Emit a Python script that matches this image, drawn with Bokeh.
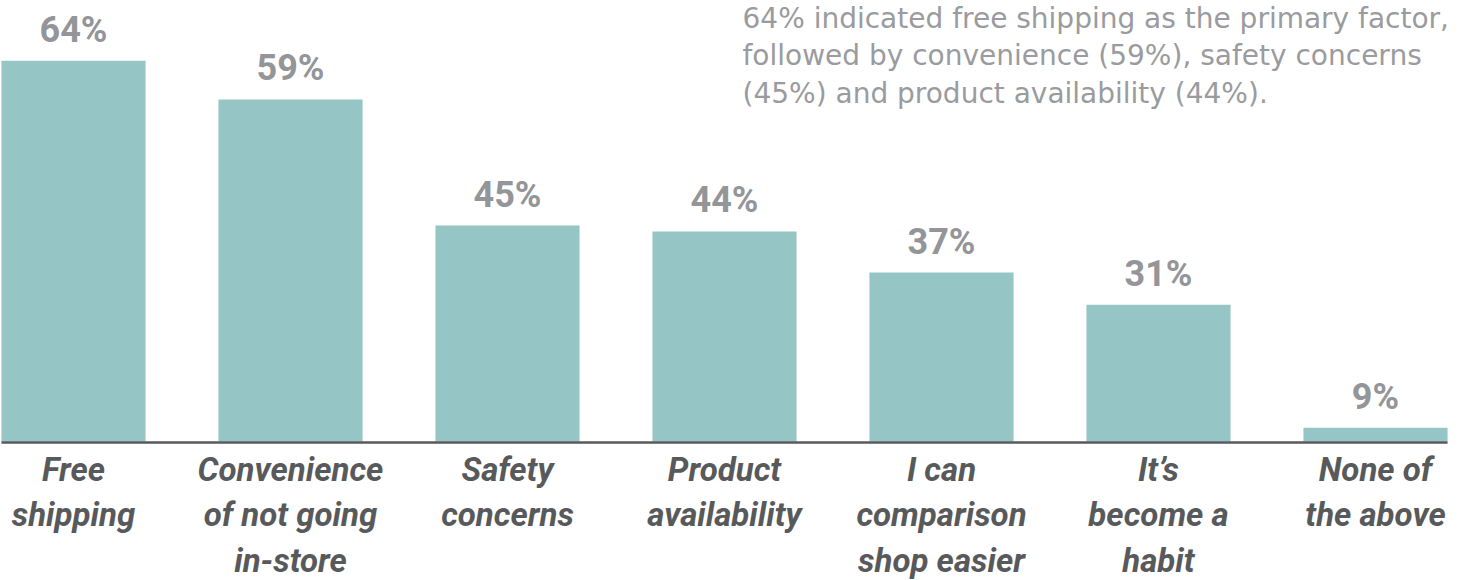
from bokeh.plotting import figure
from bokeh.models import Range1d, ColumnDataSource
from bokeh.core.properties import value
from bokeh.embed import file_html
from bokeh.resources import INLINE

# ---- data ----
categories = ["Free\nshipping", "Convenience\nof not going\nin-store", "Safety\nconcerns",
              "Product\navailability", "I can\ncomparison\nshop easier", "It\u2019s\nbecome a\nhabit",
              "None of\nthe above"]
values = [64, 59, 45, 44, 37, 31, 9]
# bar heights as drawn in the original (the original bars are not to scale)
bar_heights = [64, 57.5, 36.3, 35.3, 28.4, 23.0, 2.3]
labels = [f"{v}%" for v in values]
note = ("64% indicated free shipping as the primary factor,\n"
        "followed by convenience (59%), safety concerns\n"
        "(45%) and product availability (44%).")

W, H = 1461, 580
PX = 5.95  # pixels per unit
idx = list(range(len(categories)))
bw = 0.664
x0 = -73 / 217

src = ColumnDataSource(dict(x=idx, top=bar_heights, lab=labels, cat=categories,
                            ly=[h + 10 / PX for h in bar_heights]))

p = figure(width=W, height=H, output_backend="svg", toolbar_location=None,
           x_range=Range1d(x0, x0 + W / 217),
           y_range=Range1d(-(H - 441) / PX, 441 / PX),
           min_border=0, min_border_left=0, min_border_right=0,
           min_border_top=0, min_border_bottom=0)
p.axis.visible = False
p.grid.visible = False
p.outline_line_color = None
p.background_fill_color = "white"
p.border_fill_color = "white"

p.vbar(x="x", top="top", bottom=0, width=bw, source=src,
       fill_color="#95c5c4", line_color=None)

p.segment(x0=[idx[0] - bw / 2], x1=[idx[-1] + bw / 2], y0=[-1 / PX], y1=[-1 / PX],
          line_color="#58595b", line_width=2.5)

p.text(x="x", y="ly", text="lab", source=src,
       text_font=value("Roboto"), text_font_style="bold",
       text_font_size="36px", text_color="#939598",
       text_align="center", text_baseline="bottom")

p.text(x="x", y=-8 / PX, text="cat", source=src,
       text_font=value("Roboto"), text_font_style="bold italic",
       text_font_size="33px", text_color="#58595b",
       text_align="center", text_baseline="top", text_line_height=1.17)

p.text(x=[(747 - 78) / 217], y=[(441 - 1) / PX], text=[note],
       text_font=value("DejaVu Sans"), text_font_size="28px", text_color="#9a9b9e",
       text_align="left", text_baseline="top", text_line_height=1.145)

open("out.html", "w").write(file_html(p, INLINE))
